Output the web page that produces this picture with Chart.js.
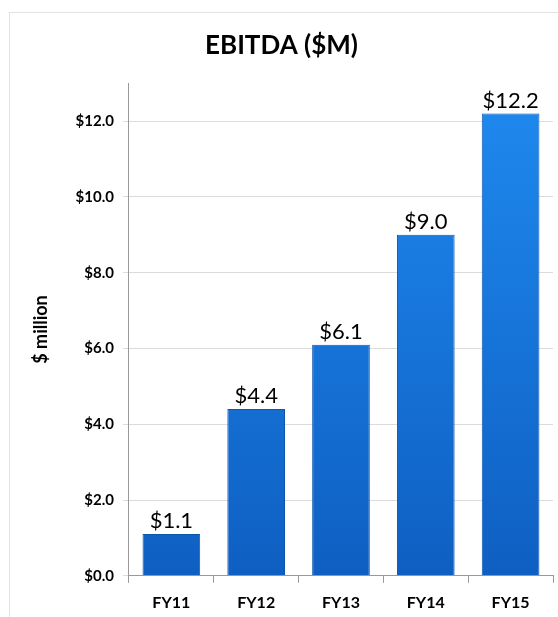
<!DOCTYPE html>
<html>
<head>
<meta charset="utf-8">
<script src="https://cdn.jsdelivr.net/npm/chart.js@4"></script>
<style>
  html, body { margin: 0; padding: 0; background: #fff; overflow: hidden; }
  .frame {
    position: absolute; left: 9px; top: 12px; width: 560px; height: 620px;
    border: 1px solid #e2e2e2; box-sizing: border-box;
  }
  .wrap { position: absolute; left: 0; top: 0; width: 558px; height: 626px; }
</style>
</head>
<body>
<div class="frame"></div>
<div class="wrap"><canvas id="chartEbitda"></canvas></div>
<script>
'use strict';

/* ── DATA ── */
const YEARS  = ['FY11', 'FY12', 'FY13', 'FY14', 'FY15'];
const EBITDA = [1.1, 4.4, 6.1, 9.0, 12.2];
const Y_TICKS = [0, 2, 4, 6, 8, 10, 12];

const FONT = "Lato, 'Open Sans', sans-serif";
Chart.defaults.font.family = FONT;
Chart.defaults.color = '#000';

/* ── value labels above bars ── */
const barLabels = {
  id: 'barLabels',
  afterDatasetsDraw(chart) {
    const { ctx } = chart;
    const meta = chart.getDatasetMeta(0);
    ctx.save();
    ctx.font = `22px ${FONT}`;
    ctx.fillStyle = '#000';
    ctx.textAlign = 'center';
    ctx.textBaseline = 'bottom';
    meta.data.forEach((bar, i) => {
      ctx.fillText('$' + EBITDA[i].toFixed(1), bar.x, bar.y - 2);
    });
    ctx.restore();
  },
};

function barFill(context) {
  const { chart } = context;
  const area = chart.chartArea;
  if (!area) return '#1470cc';
  const g = chart.ctx.createLinearGradient(0, area.top, 0, area.bottom);
  g.addColorStop(0, '#1f8af0');
  g.addColorStop(1, '#0f5fc2');
  return g;
}

new Chart(document.getElementById('chartEbitda'), {
  type: 'bar',
  data: {
    labels: YEARS,
    datasets: [{
      data: EBITDA,
      backgroundColor: barFill,
      borderColor: '#0c56b0',
      borderWidth: 1,
      barPercentage: 0.68,
      categoryPercentage: 1,
    }],
  },
  options: {
    responsive: true,
    maintainAspectRatio: false,
    animation: false,
    layout: { padding: { left: 10, right: 5, top: 30, bottom: 4 } },
    plugins: {
      legend: { display: false },
      tooltip: { enabled: false },
      title: {
        display: true,
        text: 'EBITDA ($M)',
        font: { size: 26, weight: 'bold' },
        color: '#000',
        padding: { top: 0, bottom: 22 },
      },
    },
    scales: {
      x: {
        grid: { display: true, drawOnChartArea: false, color: '#999', tickLength: 7, offset: true },
        border: { color: '#999' },
        ticks: { font: { size: 16, weight: 'bold' }, color: '#000', padding: 10 },
      },
      y: {
        min: 0,
        max: 13,
        afterBuildTicks: axis => { axis.ticks = Y_TICKS.map(v => ({ value: v })); },
        grid: { color: '#dcdcdc', tickLength: 6 },
        border: { color: '#999' },
        ticks: {
          font: { size: 15, weight: 'bold' },
          color: '#000',
          padding: 9,
          callback: v => '$' + v.toFixed(1),
        },
        title: {
          display: true,
          text: '$ million',
          font: { size: 18, weight: 'bold' },
          color: '#000',
          padding: { top: 20, bottom: 15 },
        },
      },
    },
  },
  plugins: [barLabels],
});
</script>
</body>
</html>
